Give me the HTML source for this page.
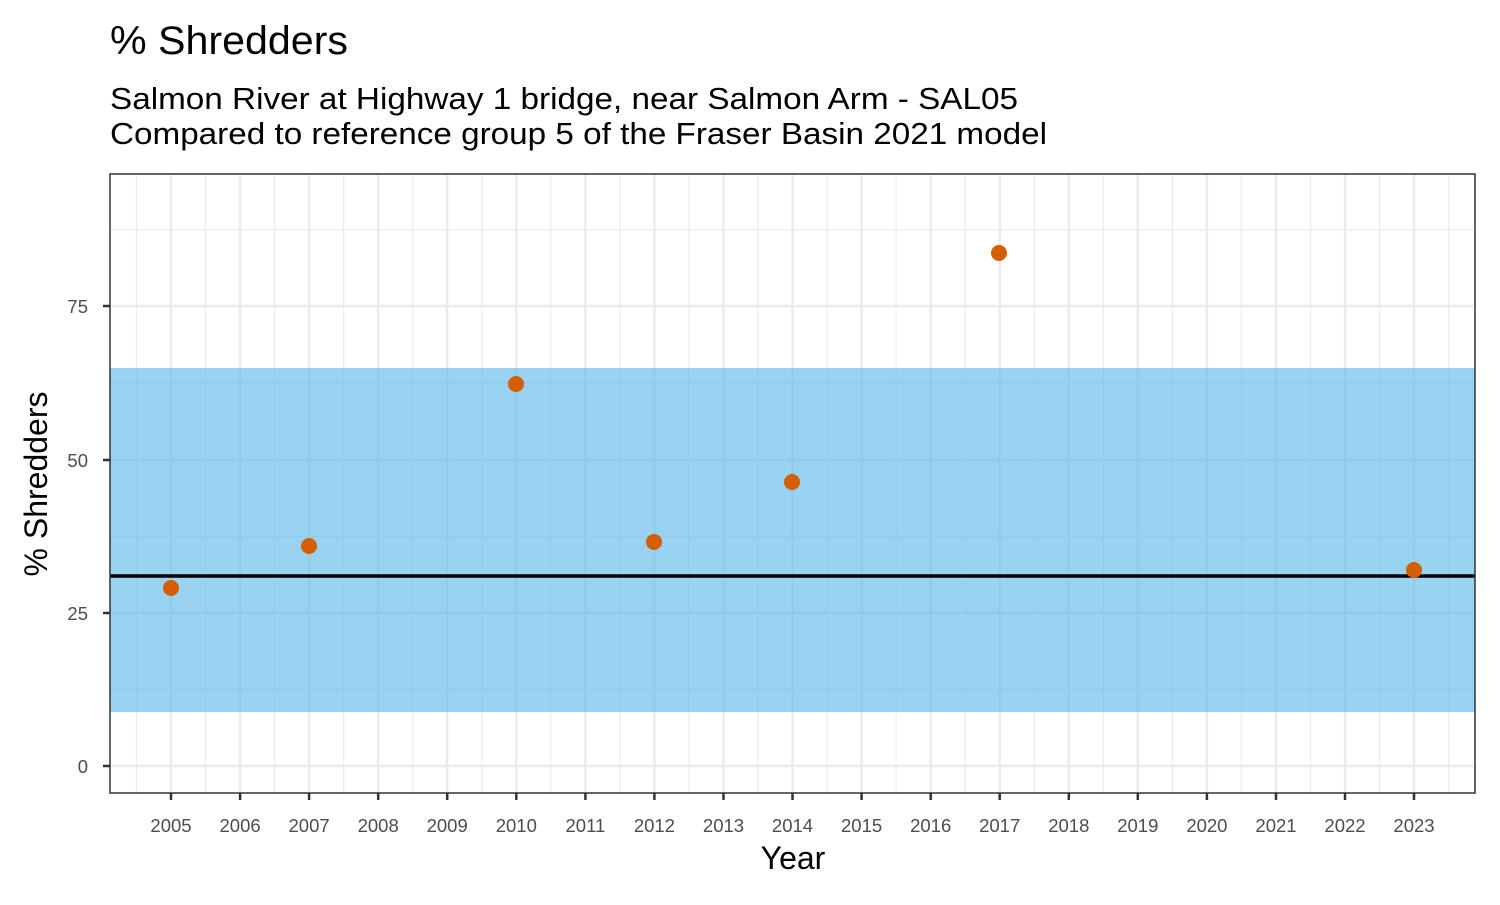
<!DOCTYPE html>
<html><head><meta charset="utf-8"><style>html,body{margin:0;padding:0;background:#fff}</style></head>
<body>
<svg width="1500" height="900" xmlns="http://www.w3.org/2000/svg" font-family="Liberation Sans, Arial, sans-serif">
<rect width="1500" height="900" fill="#fff"/>
<text x="110" y="54" font-size="40" fill="#000" textLength="238" lengthAdjust="spacingAndGlyphs">% Shredders</text>
<text x="110" y="109" font-size="31" fill="#000" textLength="908" lengthAdjust="spacingAndGlyphs">Salmon River at Highway 1 bridge, near Salmon Arm - SAL05</text>
<text x="110" y="144" font-size="31" fill="#000" textLength="937" lengthAdjust="spacingAndGlyphs">Compared to reference group 5 of the Fraser Basin 2021 model</text>
<g stroke="#ebebeb">
<g stroke-width="1.2">
<line x1="110" x2="1475" y1="689.6" y2="689.6"/><line x1="110" x2="1475" y1="536.5" y2="536.5"/><line x1="110" x2="1475" y1="383" y2="383"/><line x1="110" x2="1475" y1="229.7" y2="229.7"/>
<line y1="174" y2="793" x1="136.5" x2="136.5"/><line y1="174" y2="793" x1="205.5" x2="205.5"/><line y1="174" y2="793" x1="274.6" x2="274.6"/><line y1="174" y2="793" x1="343.7" x2="343.7"/><line y1="174" y2="793" x1="412.7" x2="412.7"/><line y1="174" y2="793" x1="481.8" x2="481.8"/><line y1="174" y2="793" x1="550.8" x2="550.8"/><line y1="174" y2="793" x1="619.9" x2="619.9"/><line y1="174" y2="793" x1="689" x2="689"/><line y1="174" y2="793" x1="758" x2="758"/><line y1="174" y2="793" x1="827.1" x2="827.1"/><line y1="174" y2="793" x1="896.1" x2="896.1"/><line y1="174" y2="793" x1="965.2" x2="965.2"/><line y1="174" y2="793" x1="1034.3" x2="1034.3"/><line y1="174" y2="793" x1="1103.3" x2="1103.3"/><line y1="174" y2="793" x1="1172.4" x2="1172.4"/><line y1="174" y2="793" x1="1241.4" x2="1241.4"/><line y1="174" y2="793" x1="1310.5" x2="1310.5"/><line y1="174" y2="793" x1="1379.6" x2="1379.6"/><line y1="174" y2="793" x1="1448.6" x2="1448.6"/>
</g>
<g stroke-width="2.5">
<line x1="110" x2="1475" y1="766" y2="766"/><line x1="110" x2="1475" y1="613" y2="613"/><line x1="110" x2="1475" y1="460" y2="460"/><line x1="110" x2="1475" y1="306" y2="306"/>
<line y1="174" y2="793" x1="171" x2="171"/><line y1="174" y2="793" x1="240.1" x2="240.1"/><line y1="174" y2="793" x1="309.1" x2="309.1"/><line y1="174" y2="793" x1="378.2" x2="378.2"/><line y1="174" y2="793" x1="447.2" x2="447.2"/><line y1="174" y2="793" x1="516.3" x2="516.3"/><line y1="174" y2="793" x1="585.4" x2="585.4"/><line y1="174" y2="793" x1="654.4" x2="654.4"/><line y1="174" y2="793" x1="723.5" x2="723.5"/><line y1="174" y2="793" x1="792.5" x2="792.5"/><line y1="174" y2="793" x1="861.6" x2="861.6"/><line y1="174" y2="793" x1="930.7" x2="930.7"/><line y1="174" y2="793" x1="999.7" x2="999.7"/><line y1="174" y2="793" x1="1068.8" x2="1068.8"/><line y1="174" y2="793" x1="1137.8" x2="1137.8"/><line y1="174" y2="793" x1="1206.9" x2="1206.9"/><line y1="174" y2="793" x1="1276" x2="1276"/><line y1="174" y2="793" x1="1345" x2="1345"/><line y1="174" y2="793" x1="1414" x2="1414"/>
</g>
</g>
<rect x="110" y="368" width="1365" height="344" fill="#56B4E9" fill-opacity="0.6"/>
<line x1="110" x2="1475" y1="576" y2="576" stroke="#000" stroke-width="3.5"/>
<g fill="#D55E00">
<circle cx="171" cy="588" r="8"/><circle cx="309" cy="546" r="8"/><circle cx="516" cy="384" r="8"/><circle cx="654" cy="542" r="8"/><circle cx="792" cy="482" r="8"/><circle cx="999" cy="253" r="8"/><circle cx="1414" cy="570" r="8"/>
</g>
<rect x="110" y="174" width="1365" height="619" fill="none" stroke="#333" stroke-width="1.5"/>
<g stroke="#333" stroke-width="2.5">
<line x1="103" x2="110" y1="766" y2="766"/><line x1="103" x2="110" y1="613" y2="613"/><line x1="103" x2="110" y1="460" y2="460"/><line x1="103" x2="110" y1="306" y2="306"/>
<line y1="793" y2="800" x1="171" x2="171"/><line y1="793" y2="800" x1="240.1" x2="240.1"/><line y1="793" y2="800" x1="309.1" x2="309.1"/><line y1="793" y2="800" x1="378.2" x2="378.2"/><line y1="793" y2="800" x1="447.2" x2="447.2"/><line y1="793" y2="800" x1="516.3" x2="516.3"/><line y1="793" y2="800" x1="585.4" x2="585.4"/><line y1="793" y2="800" x1="654.4" x2="654.4"/><line y1="793" y2="800" x1="723.5" x2="723.5"/><line y1="793" y2="800" x1="792.5" x2="792.5"/><line y1="793" y2="800" x1="861.6" x2="861.6"/><line y1="793" y2="800" x1="930.7" x2="930.7"/><line y1="793" y2="800" x1="999.7" x2="999.7"/><line y1="793" y2="800" x1="1068.8" x2="1068.8"/><line y1="793" y2="800" x1="1137.8" x2="1137.8"/><line y1="793" y2="800" x1="1206.9" x2="1206.9"/><line y1="793" y2="800" x1="1276" x2="1276"/><line y1="793" y2="800" x1="1345" x2="1345"/><line y1="793" y2="800" x1="1414" x2="1414"/>
</g>
<g font-size="18.5" fill="#4d4d4d" text-anchor="end">
<text x="88" y="773">0</text><text x="88" y="620">25</text><text x="88" y="467">50</text><text x="88" y="313">75</text>
</g>
<g font-size="18.5" fill="#4d4d4d" text-anchor="middle">
<text x="171" y="832">2005</text><text x="240.1" y="832">2006</text><text x="309.1" y="832">2007</text><text x="378.2" y="832">2008</text><text x="447.2" y="832">2009</text><text x="516.3" y="832">2010</text><text x="585.4" y="832">2011</text><text x="654.4" y="832">2012</text><text x="723.5" y="832">2013</text><text x="792.5" y="832">2014</text><text x="861.6" y="832">2015</text><text x="930.7" y="832">2016</text><text x="999.7" y="832">2017</text><text x="1068.8" y="832">2018</text><text x="1137.8" y="832">2019</text><text x="1206.9" y="832">2020</text><text x="1276" y="832">2021</text><text x="1345" y="832">2022</text><text x="1414" y="832">2023</text>
</g>
<text x="793" y="869" font-size="32" text-anchor="middle" fill="#000">Year</text>
<text transform="translate(47,484) rotate(-90)" font-size="32" text-anchor="middle" fill="#000">% Shredders</text>
</svg>
</body></html>
